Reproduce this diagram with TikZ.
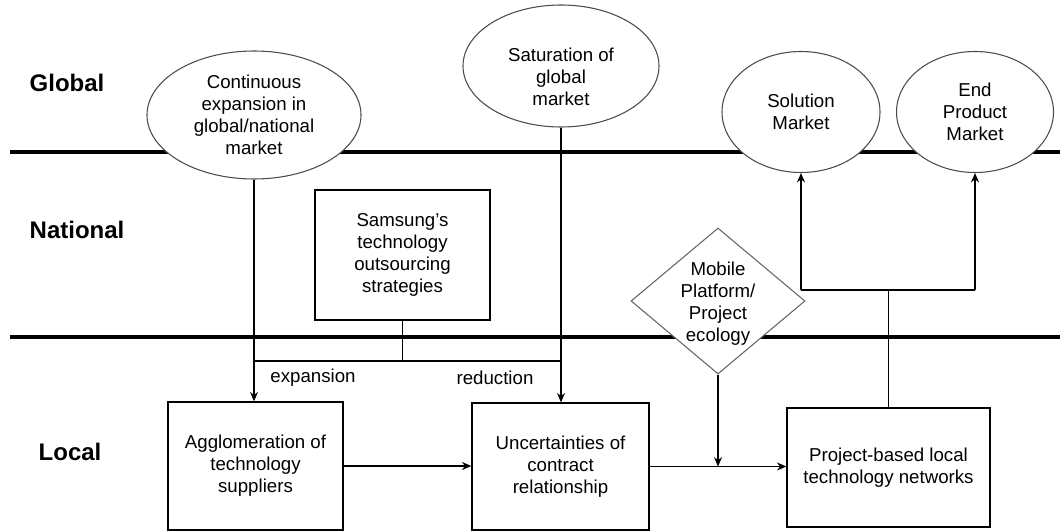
\documentclass[tikz,border=0pt]{standalone}
\usepackage{fontspec}
\setmainfont{Liberation Sans}
\usetikzlibrary{shapes.geometric,arrows.meta}
\begin{document}
\begin{tikzpicture}[x=0.75pt,y=-0.75pt,
  txt/.style={font=\fontsize{14}{16.5}\selectfont, align=center},
  sz/.style 2 args={minimum width=#1*0.75pt, minimum height=#2*0.75pt},
  sep/.style={line width=2.4pt, black},
  ell/.style={ellipse, draw=black!70, line width=0.8pt, fill=white, inner sep=0pt, txt},
  box/.style={rectangle, draw=black, line width=1pt, fill=white, inner sep=0pt, txt},
  dia/.style={diamond, draw=black!60, line width=0.8pt, fill=white, inner sep=0pt},
  lvl/.style={font=\bfseries\fontsize{18}{20}\selectfont, anchor=west},
  line/.style={line width=1.1pt, black},
  conn/.style={line, -{Stealth[length=7pt,width=6pt]}},
  lab/.style={font=\fontsize{14}{16.5}\selectfont}
]
\useasboundingbox (0,0) rectangle (1060,531);

% level separators
\coordinate (s1l) at (10,152);
\coordinate (s1r) at (1060,152);
\coordinate (s2l) at (10,337);
\coordinate (s2r) at (1060,337);
\draw[sep] (s1l) -- (s1r);
\draw[sep] (s2l) -- (s2r);

% level labels
\node[lvl] (lglobal) at (25,83) {Global};
\node[lvl] (lnational) at (25,230) {National};
\node[lvl] (llocal) at (34,452) {Local};

% global ellipses
\node[ell, sz={214}{128}] (e1) at (254,115) {Continuous\\expansion in\\global/national\\market};
\node[ell, sz={196}{122}] (e2) at (561,66) {};
\node[txt] (e2t) at (561,77) {Saturation of\\global\\market};
\node[ell, sz={158}{121}] (e3) at (801,112) {Solution\\Market};
\node[ell, sz={157}{121}] (e4) at (975,112) {End\\Product\\Market};

% national
\node[box, sz={175}{130}] (sam) at (402.5,255) {Samsung's\\technology\\outsourcing\\strategies};
\node[dia, sz={174}{146}] (mp) at (718,301) {};
\node[txt] (mpt) at (718,304) {Mobile\\Platform/\\Project\\ecology};

% local boxes
\node[box, sz={175}{128}] (agg) at (255.5,466) {Agglomeration of\\technology\\suppliers};
\node[box, sz={177}{127}] (unc) at (560.5,466.5) {Uncertainties of\\contract\\relationship};
\node[box, sz={203}{119}] (prj) at (888.5,467.5) {Project-based local\\technology networks};

% connectors
\coordinate (jl) at (255,361);
\coordinate (jr) at (561,361);
\coordinate (jt) at (888,290);

\draw[conn] (e1.south) -- (e1.south |- agg.north);
\draw[conn] (e2.south) -- (e2.south |- unc.north);
\draw[line] (jl) -- (jr);
\draw[line] (sam.south) -- (sam.south |- jl);
\node[lab] (lexp) at (313,378) {expansion};
\node[lab] (lred) at (495,378) {reduction};

\draw[conn] (agg.east) -- (agg.east -| unc.west);
\draw[conn] (unc.east) -- (unc.east -| prj.west);
\draw[conn] (mp.south) -- (mp.south |- unc.east);

\draw[line] (prj.north) -- (prj.north |- jt);
\draw[line] (e3.south |- jt) -- (e4.south |- jt);
\draw[conn] (e3.south |- jt) -- (e3.south);
\draw[conn] (e4.south |- jt) -- (e4.south);
\end{tikzpicture}
\end{document}
